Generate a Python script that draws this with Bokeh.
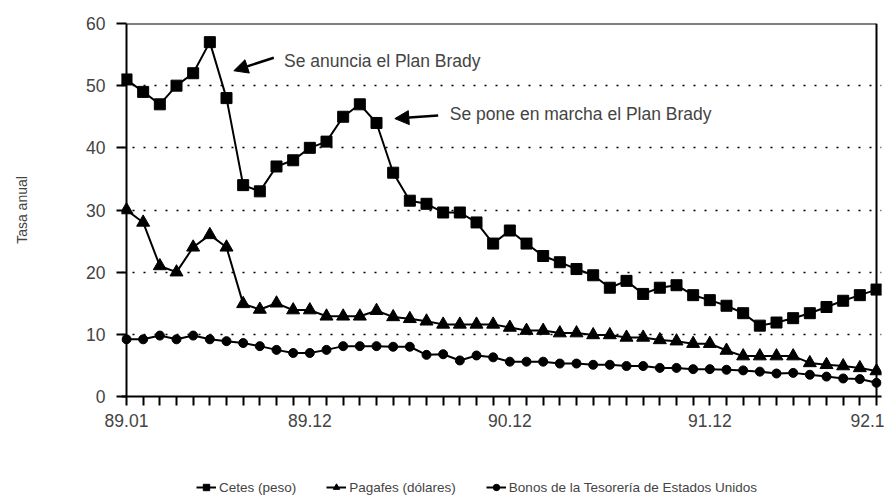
from bokeh.plotting import figure
from bokeh.layouts import column
from bokeh.models import (Range1d, FixedTicker, Legend, LegendItem, Arrow, NormalHead,
                          Label, Span)
from bokeh.embed import file_html
from bokeh.resources import INLINE

FONT = "Liberation Sans"

# ---- data (monthly, 89.01 .. 92.10) ----
cetes = [51, 49, 47, 50, 52, 57, 48, 34, 33, 37, 38, 40, 41, 45, 47, 44, 36, 31.5,
         31, 29.6, 29.6, 28, 24.6, 26.7, 24.6, 22.6, 21.6, 20.5, 19.5, 17.5, 18.6,
         16.5, 17.5, 17.9, 16.3, 15.5, 14.6, 13.4, 11.4, 11.9, 12.6, 13.4, 14.4,
         15.4, 16.3, 17.2]
pagafes = [30, 28, 21, 20, 24, 26, 24, 14.9, 14, 15, 13.9, 13.9, 12.9, 12.9, 12.9,
           13.8, 12.8, 12.5, 12.1, 11.6, 11.6, 11.6, 11.6, 11.1, 10.6, 10.6, 10.2,
           10.2, 9.9, 9.9, 9.5, 9.5, 9.1, 8.9, 8.5, 8.5, 7.4, 6.5, 6.5, 6.5, 6.5,
           5.4, 5.1, 4.9, 4.6, 4.1]
bonos = [9.2, 9.2, 9.8, 9.2, 9.8, 9.2, 8.9, 8.6, 8.1, 7.5, 7.0, 7.0, 7.5, 8.1, 8.1,
         8.1, 8.0, 8.0, 6.7, 6.8, 5.8, 6.6, 6.3, 5.6, 5.6, 5.6, 5.3, 5.3, 5.1, 5.1,
         4.9, 4.9, 4.6, 4.6, 4.4, 4.4, 4.3, 4.2, 4.0, 3.7, 3.8, 3.5, 3.2, 2.9, 2.8,
         2.2]
x_label_pos = [0, 11, 23, 35, 45]
x_labels = ["89.01", "89.12", "90.12", "91.12", "92.1"]
y_ticks = [0, 10, 20, 30, 40, 50, 60]
series_names = ["Cetes (peso)", "Pagafes (dólares)",
                "Bonos de la Tesorería de Estados Unidos"]
notes = ["Se anuncia el Plan Brady", "Se pone en marcha el Plan Brady"]

n = len(cetes)
xs = list(range(n))
pad = 0.3

p = figure(width=884, height=450, output_backend="svg", toolbar_location=None,
           x_range=Range1d(-pad, n - 1 + pad), y_range=Range1d(y_ticks[0], y_ticks[-1]),
           min_border_left=121, min_border_right=3, min_border_top=23,
           min_border_bottom=54)
p.outline_line_color = None
p.background_fill_color = "white"
p.border_fill_color = "white"

# grid
p.xgrid.grid_line_color = None
p.ygrid.ticker = FixedTicker(ticks=y_ticks[1:-1])
p.ygrid.grid_line_color = "black"
p.ygrid.grid_line_dash = "2 9"
p.ygrid.grid_line_width = 1.6

# axes
xa = p.xaxis[0]
xa.ticker = FixedTicker(ticks=xs)
overrides = {i: "" for i in xs}
overrides.update({pos: lab for pos, lab in zip(x_label_pos, x_labels)})
xa.major_label_overrides = overrides
xa.major_tick_in = 0
xa.major_tick_out = 9
xa.minor_tick_line_color = None
xa.axis_line_width = 2
xa.major_tick_line_width = 2
xa.major_label_text_font = FONT
xa.major_label_text_font_size = "17.5px"
xa.major_label_standoff = 8

ya = p.yaxis[0]
ya.ticker = FixedTicker(ticks=y_ticks)
ya.axis_line_color = None
ya.major_tick_in = 5
ya.major_tick_out = 5
ya.major_tick_line_width = 2
ya.minor_tick_line_color = None
ya.major_label_text_font = FONT
ya.major_label_text_font_size = "17.5px"
ya.major_label_standoff = 11
ya.axis_label = "Tasa anual"
ya.axis_label_text_font = FONT
ya.axis_label_text_font_size = "14px"
ya.axis_label_text_font_style = "normal"
ya.axis_label_standoff = 53

# frame box
p.add_layout(Span(location=xs[0], dimension="height", line_color="black", line_width=2))
p.add_layout(Span(location=xs[-1], dimension="height", line_color="black", line_width=2))
p.line([xs[0], xs[-1]], [y_ticks[-1], y_ticks[-1]], line_color="black", line_width=2)

# series
styles = [("square", 11), ("triangle", 13), ("circle", 9)]
series = [cetes, pagafes, bonos]
for ys, (mk, sz) in zip(series, styles):
    p.line(xs, ys, line_color="black", line_width=2)
    p.scatter(xs, ys, marker=mk, size=sz, color="black")

# annotations
head = dict(size=14, fill_color="black", line_color="black")
p.add_layout(Arrow(end=NormalHead(**head), x_start=8.84, y_start=54.5,
                   x_end=6.44, y_end=52.4, line_width=2.5, line_color="black"))
p.add_layout(Arrow(end=NormalHead(**head), x_start=18.7, y_start=45.2,
                   x_end=16.1, y_end=44.7, line_width=2.5, line_color="black"))
p.add_layout(Label(x=9.45, y=54.0, text=notes[0], text_font=FONT,
                   text_font_size="17.5px", text_baseline="middle"))
p.add_layout(Label(x=19.4, y=45.4, text=notes[1], text_font=FONT,
                   text_font_size="17.5px", text_baseline="middle"))

# legend in its own strip below (series drawn outside its visible range)
lg = figure(width=884, height=50, output_backend="svg", toolbar_location=None,
            min_border=0, x_range=Range1d(-20, -19), y_range=Range1d(-20, -19))
lg.axis.visible = False
lg.grid.visible = False
lg.outline_line_color = None
items = []
for name, ys, (mk, sz) in zip(series_names, series, styles):
    rl = lg.line(xs, ys, line_color="black", line_width=2)
    rm = lg.scatter(xs, ys, marker=mk, size=sz - 2, color="black")
    items.append(LegendItem(label=name, renderers=[rl, rm], index=0))
legend = Legend(items=items, orientation="horizontal", location=(75, 5),
                glyph_width=20, glyph_height=16, label_standoff=3, spacing=30,
                padding=0, margin=0, border_line_color=None,
                background_fill_alpha=0, label_text_font=FONT,
                label_text_font_size="13.5px", label_height=16)
lg.add_layout(legend, "center")

layout = column(p, lg, spacing=0)
open("out.html", "w").write(file_html(layout, INLINE))
